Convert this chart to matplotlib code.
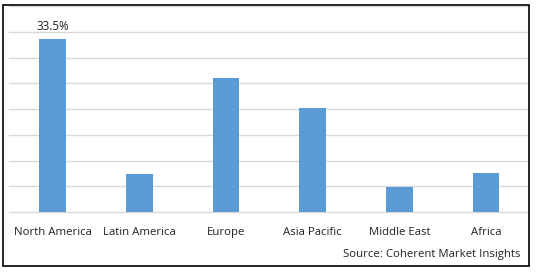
import matplotlib.pyplot as plt
from matplotlib.patches import Rectangle

# share by region (%)
regions = ["North America", "Latin America", "Europe", "Asia Pacific", "Middle East", "Africa"]
shares = [33.5, 7.4, 26.0, 20.2, 4.8, 7.6]
label_text = "33.5%"

plt.rcParams['font.family'] = ['Open Sans', 'DejaVu Sans']

fig = plt.figure(figsize=(5.38, 2.72), dpi=100)
ax = fig.add_axes([9.4 / 538, 60 / 272, 520 / 538, 206 / 272])

x = range(len(regions))
ax.bar(x, shares, width=0.31, color="#5b9bd5", zorder=3)
ax.set_xlim(-0.5, len(regions) - 0.5)
ax.set_ylim(0, 40)
ax.set_yticks(range(0, 41, 5))
ax.yaxis.grid(True, color="#d9d9d9", linewidth=1)
for gl in ax.get_ygridlines():
    gl.set_clip_on(False)
ax.tick_params(axis="y", left=False, labelleft=False)
ax.tick_params(axis="x", bottom=False, pad=7)
ax.set_xticks(list(x))
ax.set_xticklabels(regions, fontsize=8.2, color="#222222")
for s in ax.spines.values():
    s.set_visible(False)

ax.text(0, shares[0] + 1.2, label_text, ha="center", va="bottom", fontsize=8.4, color="#222222")

fig.text(520 / 538, 1 - 254 / 272, "Source: Coherent Market Insights", ha="right", va="center",
         fontsize=8.2, color="#222222")

# outer frame
fig.patches.append(Rectangle((3 / 538, 1 - 266 / 272), 526 / 538, 261 / 272, transform=fig.transFigure,
                             fill=False, edgecolor="black", linewidth=1.2))

fig.savefig("out.png", dpi=100)
